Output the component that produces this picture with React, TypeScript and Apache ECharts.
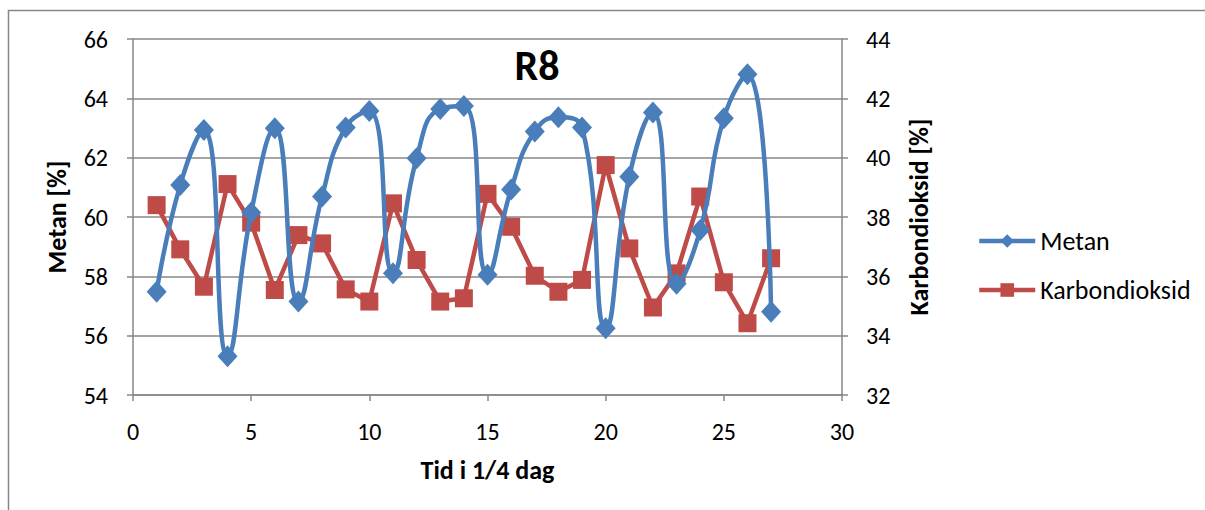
import React, { useEffect, useRef } from "react";
import * as echarts from "echarts";

const timeSteps = [1,2,3,4,5,6,7,8,9,10,11,12,13,14,15,16,17,18,19,20,21,22,23,24,25,26,27];
const metan = [57.48,61.08,62.93,55.31,60.15,62.99,57.15,60.69,63.02,63.57,58.1,61.98,63.64,63.74,58.05,60.93,62.88,63.36,63.02,56.25,61.36,63.52,57.75,59.56,63.33,64.81,56.81];
const karbondioksid = [38.4,36.91,35.65,39.11,37.81,35.54,37.39,37.11,35.56,35.15,38.46,36.55,35.15,35.26,38.78,37.67,36.02,35.48,35.88,39.75,36.94,34.95,36.1,38.69,35.8,34.42,36.61];
const seriesNames = ["Metan", "Karbondioksid"];
const chartTitle = "R8";
const xTitle = "Tid i 1/4 dag";
const yLeftTitle = "Metan [%]";
const yRightTitle = "Karbondioksid [%]";

const FONT = "Carlito, 'Open Sans', sans-serif";
const GRAY = "#878787";

export default function App() {
  const ref = useRef<HTMLDivElement>(null);
  useEffect(() => {
    if (!ref.current) return;
    const chart = echarts.init(ref.current, null, { renderer: "svg" });
    const axisCommon = {
      axisLine: { show: true, lineStyle: { color: GRAY, width: 1.5 } },
      axisTick: { show: true, inside: false, length: 6, lineStyle: { color: GRAY, width: 1.5 } },
      axisLabel: { color: "#000", fontSize: 24, fontFamily: FONT },
      nameTextStyle: { color: "#000", fontSize: 26, fontWeight: "bold", fontFamily: FONT },
    };
    chart.setOption({
      animation: false,
      backgroundColor: "#fff",
      title: {
        text: chartTitle,
        left: 532,
        top: 39,
        textAlign: "center",
        textStyle: { fontSize: 42, fontWeight: "bold", color: "#000", fontFamily: FONT },
      },
      graphic: [
        {
          type: "rect",
          shape: { x: 8.5, y: 10.5, width: 1400, height: 700 },
          style: { fill: "none", stroke: GRAY, lineWidth: 1.5 },
          silent: true,
        },
      ],
      legend: {
        orient: "vertical",
        left: 972,
        top: 223,
        itemWidth: 56,
        itemHeight: 17,
        itemGap: 23,
        lineStyle: { width: 4.5 },
        textStyle: { fontSize: 26, color: "#000", fontFamily: FONT },
        data: seriesNames,
      },
      grid: { left: 133, right: 363, top: 39, bottom: 115, containLabel: false },
      xAxis: {
        type: "value",
        min: 0,
        max: 30,
        interval: 5,
        splitLine: { show: false },
        ...axisCommon,
        axisLabel: { ...axisCommon.axisLabel, margin: 24 },
        name: xTitle,
        nameLocation: "middle",
        nameGap: 62,
      },
      yAxis: [
        {
          type: "value",
          min: 54,
          max: 66,
          interval: 2,
          position: "left",
          ...axisCommon,
          axisLabel: { ...axisCommon.axisLabel, margin: 25 },
          splitLine: { show: true, lineStyle: { color: GRAY, width: 1.5 } },
          name: yLeftTitle,
          nameLocation: "middle",
          nameGap: 63,
          nameRotate: 90,
        },
        {
          type: "value",
          min: 32,
          max: 44,
          interval: 2,
          position: "right",
          ...axisCommon,
          axisLabel: { ...axisCommon.axisLabel, margin: 24 },
          splitLine: { show: false },
          name: yRightTitle,
          nameLocation: "middle",
          nameGap: 64,
          nameRotate: 90,
        },
      ],
      series: [
        {
          name: seriesNames[0],
          type: "line",
          yAxisIndex: 0,
          smooth: 0.5,
          data: timeSteps.map((t, i) => [t, metan[i]]),
          symbol: "diamond",
          symbolSize: [20, 22],
          itemStyle: { color: "#4A7EBB" },
          lineStyle: { color: "#4A7EBB", width: 4.5 },
          z: 3,
        },
        {
          name: seriesNames[1],
          type: "line",
          yAxisIndex: 1,
          data: timeSteps.map((t, i) => [t, karbondioksid[i]]),
          symbol: "rect",
          symbolSize: 18,
          itemStyle: { color: "#BE4B48" },
          lineStyle: { color: "#BE4B48", width: 4.5 },
          z: 2,
        },
      ],
    });
    return () => chart.dispose();
  }, []);
  return (
    <div
      ref={ref}
      style={{ position: "fixed", left: 0, top: 0, width: 1205, height: 510 }}
    />
  );
}
